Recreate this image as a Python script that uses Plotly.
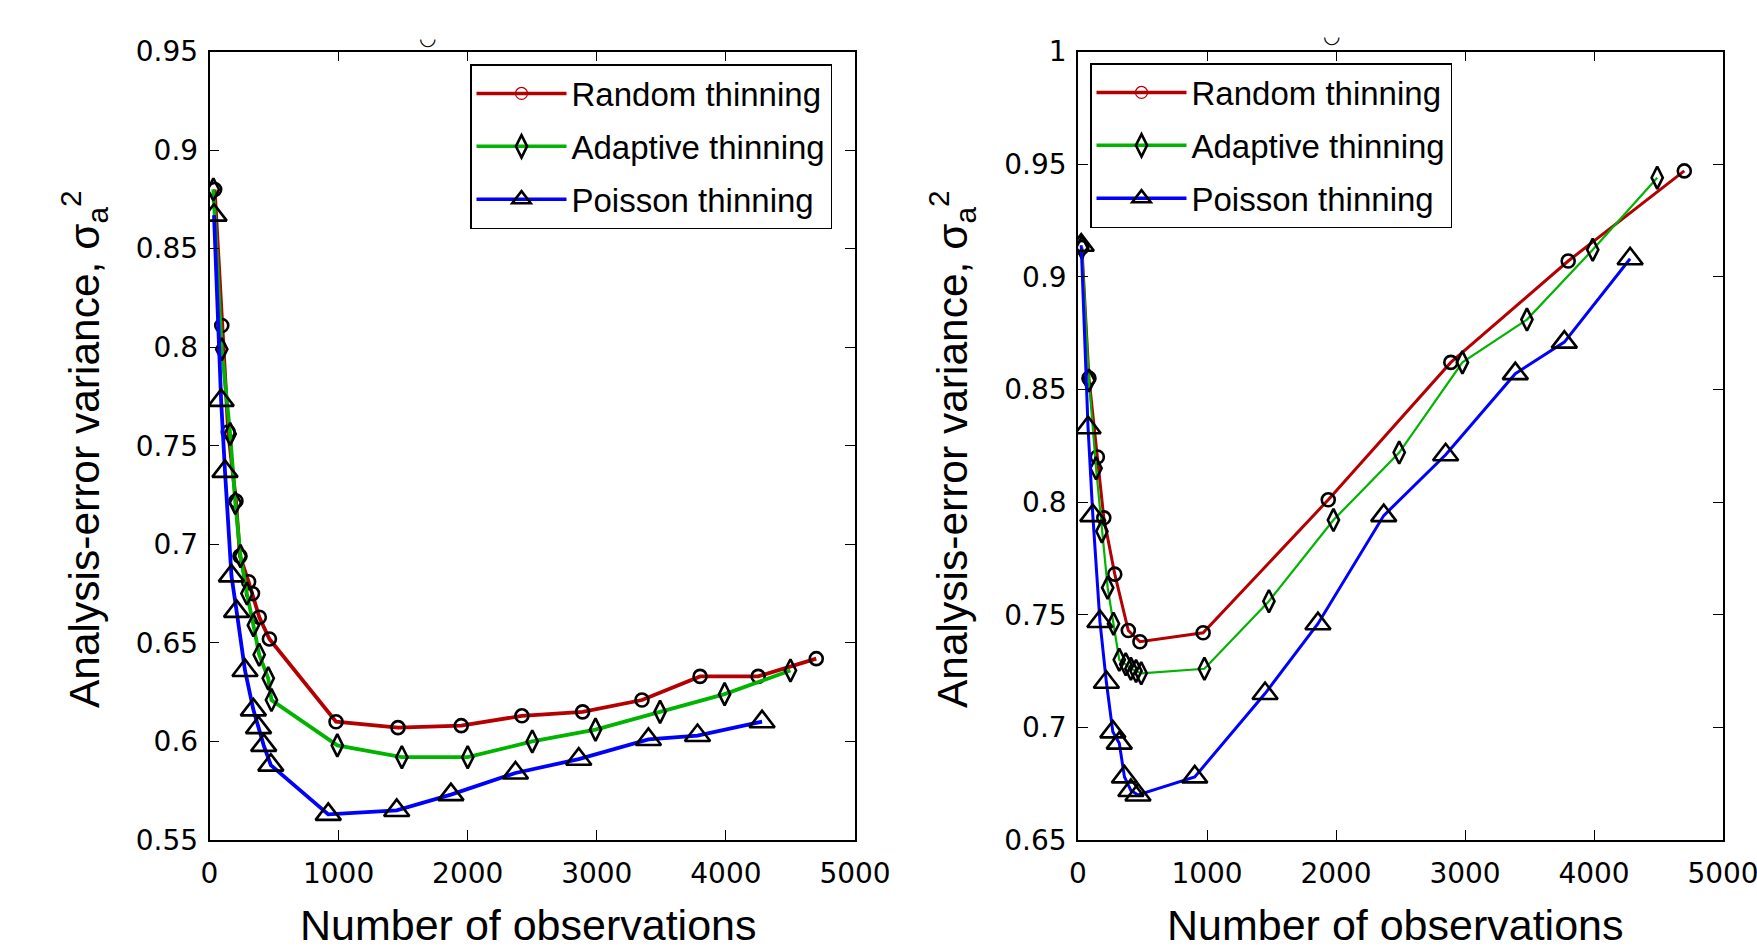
import plotly.graph_objects as go

# ---------------- data ----------------
# Left panel
L_random_x = [40, 95, 145, 205, 236, 303, 333, 386, 464, 980, 1460, 1950, 2420, 2890, 3350, 3800, 4250, 4700]
L_random_y = [0.880, 0.811, 0.757, 0.722, 0.694, 0.681, 0.675, 0.663, 0.652, 0.610, 0.607, 0.608, 0.613, 0.615, 0.621, 0.633, 0.633, 0.642]

L_adapt_x = [30, 95, 160, 200, 240, 290, 340, 385, 455, 480, 990, 1490, 2000, 2500, 2990, 3490, 3990, 4500]
L_adapt_y = [0.880, 0.799, 0.756, 0.721, 0.694, 0.675, 0.659, 0.644, 0.632, 0.621, 0.598, 0.592, 0.592, 0.600, 0.606, 0.615, 0.624, 0.636]

L_poisson_x = [35, 90, 120, 170, 210, 275, 340, 380, 420, 475, 920, 1450, 1870, 2370, 2860, 3400, 3780, 4280]
L_poisson_y = [0.867, 0.773, 0.737, 0.684, 0.666, 0.636, 0.616, 0.607, 0.598, 0.588, 0.563, 0.565, 0.573, 0.584, 0.591, 0.601, 0.603, 0.610]

# Right panel
R_random_x = [30, 85, 150, 200, 285, 390, 480, 970, 1940, 2890, 3800, 4700]
R_random_y = [0.913, 0.855, 0.820, 0.793, 0.768, 0.743, 0.738, 0.742, 0.801, 0.862, 0.907, 0.947]

R_adapt_x = [30, 85, 140, 185, 230, 275, 320, 370, 410, 450, 490, 980, 1480, 1980, 2490, 2980, 3480, 3990, 4490]
R_adapt_y = [0.913, 0.854, 0.815, 0.787, 0.762, 0.746, 0.730, 0.728, 0.726, 0.725, 0.724, 0.726, 0.756, 0.792, 0.822, 0.862, 0.881, 0.912, 0.944]

R_poisson_x = [25, 78, 115, 170, 220, 270, 320, 360, 410, 465, 905, 1450, 1860, 2370, 2850, 3390, 3770, 4280]
R_poisson_y = [0.914, 0.833, 0.794, 0.747, 0.720, 0.698, 0.693, 0.678, 0.672, 0.670, 0.678, 0.715, 0.746, 0.794, 0.821, 0.857, 0.871, 0.908]

series_names = ["Random thinning", "Adaptive thinning", "Poisson thinning"]

x_ticks = [0, 1000, 2000, 3000, 4000, 5000]
x_ticktext = ["0", "1000", "2000", "3000", "4000", "5000"]
L_y_ticks = [0.55, 0.6, 0.65, 0.7, 0.75, 0.8, 0.85, 0.9, 0.95]
L_y_ticktext = ["0.55", "0.6", "0.65", "0.7", "0.75", "0.8", "0.85", "0.9", "0.95"]
R_y_ticks = [0.65, 0.7, 0.75, 0.8, 0.85, 0.9, 0.95, 1.0]
R_y_ticktext = ["0.65", "0.7", "0.75", "0.8", "0.85", "0.9", "0.95", "1"]

# ---------------- styling ----------------
FONT = "Liberation Sans, Arial, Helvetica, sans-serif"
TICKFONT = "DejaVu Sans, Liberation Sans, sans-serif"
RED = "#b40000"
GREEN = "#00b400"
BLUE = "#0000ff"
W, H = 1757, 952

fig = go.Figure()

def add_panel(xs, ys, xa, ya, widths, legend):
    colors = [RED, GREEN, BLUE]
    symbols = ["circle-open", "diamond-tall-open", "triangle-up-open"]
    sizes = [13, 16, 22]
    for i in range(3):
        fig.add_trace(go.Scatter(
            x=xs[i], y=ys[i], xaxis=xa, yaxis=ya, mode="lines+markers",
            line=dict(color=colors[i], width=widths[i]),
            marker=dict(symbol=symbols[i], size=sizes[i], color="black",
                        line=dict(color="black", width=2.6)),
            showlegend=False, hoverinfo="skip"))
    # legend-only entries (legend sample styling as in reference)
    leg_marker = [
        dict(symbol="circle-open", size=12, color=RED, line=dict(color=RED, width=1.2)),
        dict(symbol="diamond-tall-open", size=16, color="black", line=dict(color="black", width=2.6)),
        dict(symbol="triangle-up-open", size=22, color="black", line=dict(color="black", width=2.6)),
    ]
    for i in range(3):
        fig.add_trace(go.Scatter(
            x=[None], y=[None], xaxis=xa, yaxis=ya, mode="lines+markers",
            name=series_names[i], legend=legend, legendgroup=legend + str(i),
            line=dict(color=colors[i], width=3.5), marker=leg_marker[i]))

add_panel([L_random_x, L_adapt_x, L_poisson_x], [L_random_y, L_adapt_y, L_poisson_y],
          "x", "y", [3.8, 3.8, 3.8], "legend")
add_panel([R_random_x, R_adapt_x, R_poisson_x], [R_random_y, R_adapt_y, R_poisson_y],
          "x2", "y2", [3, 2.2, 3], "legend2")

y_dom = [1 - 840 / H, 1 - 51.5 / H]
axis_common = dict(showline=True, linecolor="black", linewidth=1.5, mirror="ticks",
                   ticks="inside", ticklen=10, tickwidth=1.2, tickcolor="black",
                   showgrid=False, zeroline=False, automargin=False,
                   ticklabeloverflow="allow",
                   tickfont=dict(family=TICKFONT, size=28, color="black"))

legend_common = dict(xanchor="left", yanchor="top", bgcolor="white",
                     bordercolor="black", borderwidth=1.5,
                     font=dict(family=FONT, size=33, color="black"),
                     tracegroupgap=7, itemwidth=90)

fig.update_layout(
    width=W, height=H, margin=dict(l=0, r=0, t=0, b=0, autoexpand=False),
    paper_bgcolor="white", plot_bgcolor="white",
    xaxis=dict(domain=[209.5 / W, 855 / W], range=[0, 5000], tickvals=x_ticks,
               ticktext=x_ticktext, anchor="y", ticklabelstandoff=8, **axis_common),
    yaxis=dict(domain=y_dom, range=[0.55, 0.95], tickvals=L_y_ticks,
               ticktext=L_y_ticktext, anchor="x", ticklabelstandoff=4, **axis_common),
    xaxis2=dict(domain=[1078 / W, 1723 / W], range=[0, 5000], tickvals=x_ticks,
                ticktext=x_ticktext, anchor="y2", ticklabelstandoff=8, **axis_common),
    yaxis2=dict(domain=y_dom, range=[0.65, 1.0], tickvals=R_y_ticks,
                ticktext=R_y_ticktext, anchor="x2", ticklabelstandoff=4, **axis_common),
    legend=dict(x=470 / W, y=1 - 64 / H, **legend_common),
    legend2=dict(x=1090 / W, y=1 - 63 / H, **legend_common),
)

# axis titles
xtitle = "Number of observations"
ytitle = "Analysis-error variance, σ<sub>a</sub><sup>2</sup>"
for cx in (528, 1395):
    fig.add_annotation(text=xtitle, x=cx / W, y=1 - 925 / H, xref="paper", yref="paper",
                       showarrow=False, xanchor="center", yanchor="middle",
                       font=dict(family=FONT, size=43, color="black"))
for cx in (84, 952):
    fig.add_annotation(text=ytitle, x=cx / W, y=1 - 449 / H, xref="paper", yref="paper",
                       showarrow=False, xanchor="center", yanchor="middle", textangle=-90,
                       font=dict(family=FONT, size=42.5, color="black"))

# clipped title fragment visible above each panel in the reference
for cx, cy in ((427, 38), (1331, 36)):
    fig.add_annotation(text="◡", x=cx / W, y=1 - cy / H, xref="paper", yref="paper",
                       showarrow=False, xanchor="center", yanchor="middle",
                       font=dict(family="DejaVu Sans", size=20, color="black"))

fig.write_html("out.html")
